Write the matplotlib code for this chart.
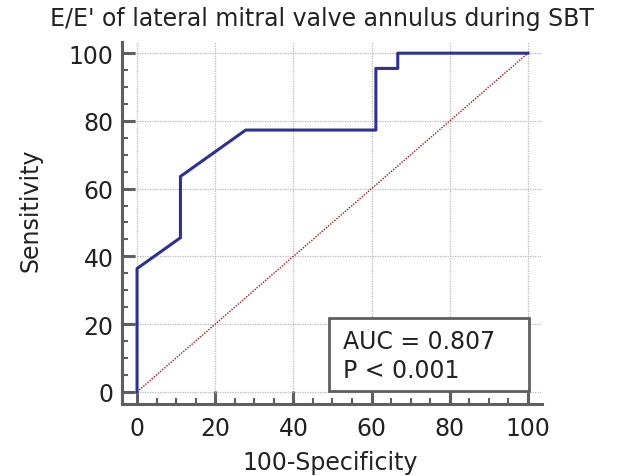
import matplotlib.pyplot as plt
from matplotlib.ticker import MultipleLocator
from matplotlib.patches import Rectangle

plt.rcParams['font.family'] = ['DejaVu Sans']

# ROC curve points (100-Specificity, Sensitivity)
fpr = [0, 0, 11.1, 11.1, 27.8, 61.1, 61.1, 66.7, 66.7, 100]
tpr = [0, 36.4, 45.5, 63.6, 77.3, 77.3, 95.5, 95.5, 100, 100]
ticks = [0, 20, 40, 60, 80, 100]
auc_line = "AUC = 0.807"
p_line = "P < 0.001"
title = "E/E' of lateral mitral valve annulus during SBT"

spine_col = '#5f5f5f'

fig = plt.figure(figsize=(6.34, 4.77), dpi=100)
ax = fig.add_axes([122/634, 72/477, 420/634, 362/477])

ax.plot([0, 100], [0, 100], color='#a01818', lw=1.0, ls=(0, (1, 1)), zorder=2)
ax.plot(fpr, tpr, color='#2e3192', lw=2.2, zorder=3)

ax.set_xlim(-3.85, 103.6)
ax.set_ylim(-3.6, 103.3)
ax.set_xticks(ticks)
ax.set_yticks(ticks)
ax.xaxis.set_minor_locator(MultipleLocator(5))
ax.yaxis.set_minor_locator(MultipleLocator(5))
ax.grid(True, which='major', color='#b8b8b8', ls=(0, (1, 1)), lw=0.9)

for s in ['top', 'right']:
    ax.spines[s].set_visible(False)
for s in ['left', 'bottom']:
    ax.spines[s].set_color(spine_col)
    ax.spines[s].set_linewidth(2.2)

ax.tick_params(which='major', direction='in', length=9.5, width=2.2,
               color=spine_col, labelsize=17, labelcolor='#222222')
ax.tick_params(axis='x', which='major', pad=9)
ax.tick_params(axis='y', which='major', pad=6)
ax.tick_params(which='minor', direction='in', length=4.5, width=1.5,
               color=spine_col)

ax.set_xlabel('100-Specificity', fontsize=17, color='#222222')
ax.xaxis.set_label_coords(0.495, -0.16)
ax.xaxis.label.set_va('center')
ax.set_ylabel('Sensitivity', fontsize=17, color='#222222')
ax.yaxis.set_label_coords(-0.219, 0.539)
ax.yaxis.label.set_va('center')
fig.text(0.508, 0.985, title, ha='center', va='top', fontsize=17, color='#222222')

# AUC box
ax.add_patch(Rectangle((49, 0.2), 51.3, 21.6, fc='white', ec=spine_col,
                       lw=2.0, zorder=5))
ax.text(52.6, 12.9, auc_line, fontsize=17, va='baseline', ha='left',
        color='#222222', zorder=6)
ax.text(52.6, 4.4, p_line, fontsize=17, va='baseline', ha='left',
        color='#222222', zorder=6)

fig.savefig('out.png', dpi=100)
